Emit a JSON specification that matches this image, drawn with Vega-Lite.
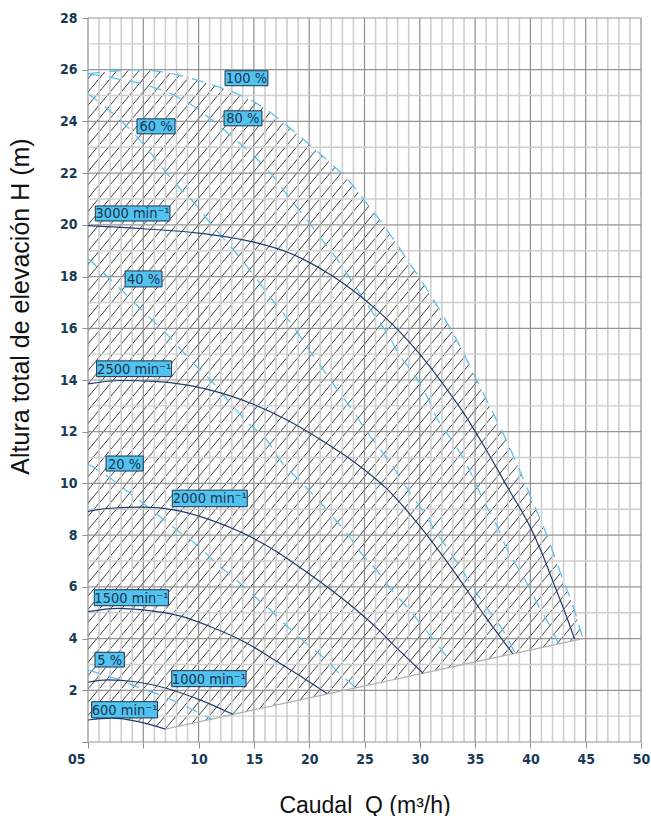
{
"$schema": "https://vega.github.io/schema/vega-lite/v6.json",
"width": 553, "height": 724,
"autosize": {"type": "none"},
"padding": {"left": 88, "top": 18, "right": 10, "bottom": 74},
"background": "white",
"config": {"view": {"stroke": null}, "axis": {"grid": false, "domain": false}},
"datasets": {
"hatch": [{"a":-51,"b":3.58},{"a":-50,"b":4.58},{"a":-49,"b":5.58},{"a":-48,"b":6.58},{"a":-47,"b":7.58},{"a":-46,"b":8.58},{"a":-45,"b":9.58},{"a":-44,"b":10.58},{"a":-43,"b":11.58},{"a":-42,"b":12.58},{"a":-41,"b":13.58},{"a":-40,"b":14.58},{"a":-39,"b":15.58},{"a":-38,"b":16.58},{"a":-37,"b":17.58},{"a":-36,"b":18.58},{"a":-35,"b":19.58},{"a":-34,"b":20.58},{"a":-33,"b":21.58},{"a":-32,"b":22.58},{"a":-31,"b":23.58},{"a":-30,"b":24.58},{"a":-29,"b":25.58},{"a":-28,"b":26.58},{"a":-27,"b":27.58},{"a":-26,"b":28.58},{"a":-25,"b":29.58},{"a":-24,"b":30.58},{"a":-23,"b":31.58},{"a":-22,"b":32.58},{"a":-21,"b":33.58},{"a":-20,"b":34.58},{"a":-19,"b":35.58},{"a":-18,"b":36.58},{"a":-17,"b":37.58},{"a":-16,"b":38.58},{"a":-15,"b":39.58},{"a":-14,"b":40.58},{"a":-13,"b":41.58},{"a":-12,"b":42.58},{"a":-11,"b":43.58},{"a":-10,"b":44.58},{"a":-9,"b":45.58},{"a":-8,"b":46.58},{"a":-7,"b":47.58},{"a":-6,"b":48.58},{"a":-5,"b":49.58},{"a":-4,"b":50.58},{"a":-3,"b":51.58},{"a":-2,"b":52.58},{"a":-1,"b":53.58},{"a":0,"b":54.58},{"a":1,"b":55.58},{"a":2,"b":56.58},{"a":3,"b":57.58},{"a":4,"b":58.58},{"a":5,"b":59.58},{"a":6,"b":60.58},{"a":7,"b":61.58},{"a":8,"b":62.58},{"a":9,"b":63.58},{"a":10,"b":64.58},{"a":11,"b":65.58},{"a":12,"b":66.58},{"a":13,"b":67.58},{"a":14,"b":68.58},{"a":15,"b":69.58},{"a":16,"b":70.58},{"a":17,"b":71.58},{"a":18,"b":72.58},{"a":19,"b":73.58},{"a":20,"b":74.58},{"a":21,"b":75.58},{"a":22,"b":76.58},{"a":23,"b":77.58},{"a":24,"b":78.58},{"a":25,"b":79.58},{"a":26,"b":80.58},{"a":27,"b":81.58},{"a":28,"b":82.58},{"a":29,"b":83.58},{"a":30,"b":84.58},{"a":31,"b":85.58},{"a":32,"b":86.58},{"a":33,"b":87.58},{"a":34,"b":88.58},{"a":35,"b":89.58},{"a":36,"b":90.58},{"a":37,"b":91.58}],
"eff": [
{"curve":"100 %","q":0,"h":25.85},{"curve":"100 %","q":2.1,"h":25.94},{"curve":"100 %","q":4.5,"h":26.0},{"curve":"100 %","q":7.6,"h":25.85},{"curve":"100 %","q":9.7,"h":25.62},{"curve":"100 %","q":11.2,"h":25.42},{"curve":"100 %","q":13.0,"h":25.15},{"curve":"100 %","q":14.8,"h":24.8},{"curve":"100 %","q":16.0,"h":24.5},{"curve":"100 %","q":17.8,"h":23.9},{"curve":"100 %","q":19.6,"h":23.26},{"curve":"100 %","q":22.0,"h":22.36},{"curve":"100 %","q":23.8,"h":21.6},{"curve":"100 %","q":25.0,"h":20.94},{"curve":"100 %","q":26.4,"h":20.17},{"curve":"100 %","q":27.6,"h":19.45},{"curve":"100 %","q":29.1,"h":18.5},{"curve":"100 %","q":30.2,"h":17.8},{"curve":"100 %","q":31.8,"h":16.7},{"curve":"100 %","q":33.6,"h":15.33},{"curve":"100 %","q":35.1,"h":14.04},{"curve":"100 %","q":36.6,"h":12.75},{"curve":"100 %","q":37.9,"h":11.6},{"curve":"100 %","q":39.1,"h":10.43},{"curve":"100 %","q":40.3,"h":9.2},{"curve":"100 %","q":41.5,"h":7.98},{"curve":"100 %","q":42.7,"h":6.56},{"curve":"100 %","q":43.9,"h":5.2},{"curve":"100 %","q":44.75,"h":4.0},
{"curve":"80 %","q":0,"h":25.85},{"curve":"80 %","q":2.0,"h":25.7},{"curve":"80 %","q":5.5,"h":25.38},{"curve":"80 %","q":8.3,"h":24.9},{"curve":"80 %","q":9.7,"h":24.55},{"curve":"80 %","q":11.8,"h":23.84},{"curve":"80 %","q":13.6,"h":23.2},{"curve":"80 %","q":15.4,"h":22.5},{"curve":"80 %","q":16.6,"h":21.95},{"curve":"80 %","q":18.4,"h":20.94},{"curve":"80 %","q":19.6,"h":20.3},{"curve":"80 %","q":21.1,"h":19.46},{"curve":"80 %","q":22.3,"h":18.8},{"curve":"80 %","q":23.5,"h":18.05},{"curve":"80 %","q":24.6,"h":17.33},{"curve":"80 %","q":25.5,"h":16.75},{"curve":"80 %","q":27.15,"h":15.74},{"curve":"80 %","q":28.2,"h":14.94},{"curve":"80 %","q":29.5,"h":14.2},{"curve":"80 %","q":30.6,"h":13.4},{"curve":"80 %","q":31.5,"h":12.56},{"curve":"80 %","q":32.7,"h":11.79},{"curve":"80 %","q":33.9,"h":11.0},{"curve":"80 %","q":34.8,"h":10.24},{"curve":"80 %","q":35.8,"h":9.3},{"curve":"80 %","q":36.9,"h":8.43},{"curve":"80 %","q":37.8,"h":7.53},{"curve":"80 %","q":38.7,"h":6.85},{"curve":"80 %","q":39.9,"h":5.98},{"curve":"80 %","q":40.8,"h":5.21},{"curve":"80 %","q":41.8,"h":4.47},{"curve":"80 %","q":42.55,"h":3.8},
{"curve":"60 %","q":0,"h":25.07},{"curve":"60 %","q":1.5,"h":24.58},{"curve":"60 %","q":4.85,"h":23.2},{"curve":"60 %","q":6.2,"h":22.49},{"curve":"60 %","q":7.8,"h":21.65},{"curve":"60 %","q":9.7,"h":20.8},{"curve":"60 %","q":11.0,"h":20.1},{"curve":"60 %","q":12.4,"h":19.4},{"curve":"60 %","q":13.7,"h":18.75},{"curve":"60 %","q":14.9,"h":18.1},{"curve":"60 %","q":16.4,"h":17.24},{"curve":"60 %","q":17.7,"h":16.56},{"curve":"60 %","q":19.1,"h":15.74},{"curve":"60 %","q":20.3,"h":14.97},{"curve":"60 %","q":21.5,"h":14.27},{"curve":"60 %","q":22.7,"h":13.53},{"curve":"60 %","q":24.0,"h":12.78},{"curve":"60 %","q":25.2,"h":12.0},{"curve":"60 %","q":26.5,"h":11.27},{"curve":"60 %","q":27.8,"h":10.5},{"curve":"60 %","q":29.05,"h":9.68},{"curve":"60 %","q":30.3,"h":8.92},{"curve":"60 %","q":31.5,"h":8.11},{"curve":"60 %","q":32.7,"h":7.36},{"curve":"60 %","q":33.9,"h":6.59},{"curve":"60 %","q":35.1,"h":5.79},{"curve":"60 %","q":36.3,"h":5.04},{"curve":"60 %","q":37.55,"h":4.3},{"curve":"60 %","q":38.6,"h":3.45},
{"curve":"40 %","q":0,"h":18.7},{"curve":"40 %","q":2.3,"h":17.78},{"curve":"40 %","q":3.6,"h":17.24},{"curve":"40 %","q":5.2,"h":16.56},{"curve":"40 %","q":6.8,"h":15.91},{"curve":"40 %","q":9.8,"h":14.53},{"curve":"40 %","q":11.4,"h":13.85},{"curve":"40 %","q":13.0,"h":13.04},{"curve":"40 %","q":14.35,"h":12.39},{"curve":"40 %","q":16.2,"h":11.66},{"curve":"40 %","q":17.5,"h":10.82},{"curve":"40 %","q":19.0,"h":10.17},{"curve":"40 %","q":20.5,"h":9.5},{"curve":"40 %","q":22.3,"h":8.63},{"curve":"40 %","q":23.4,"h":8.08},{"curve":"40 %","q":24.7,"h":7.3},{"curve":"40 %","q":26.2,"h":6.59},{"curve":"40 %","q":27.5,"h":5.85},{"curve":"40 %","q":29.0,"h":5.15},{"curve":"40 %","q":30.4,"h":4.4},{"curve":"40 %","q":31.8,"h":3.66},{"curve":"40 %","q":33.0,"h":2.95},
{"curve":"20 %","q":0,"h":10.75},{"curve":"20 %","q":1.9,"h":10.24},{"curve":"20 %","q":3.2,"h":9.81},{"curve":"20 %","q":5.0,"h":9.22},{"curve":"20 %","q":6.7,"h":8.65},{"curve":"20 %","q":8.3,"h":8.11},{"curve":"20 %","q":10.1,"h":7.53},{"curve":"20 %","q":11.6,"h":6.91},{"curve":"20 %","q":13.4,"h":6.27},{"curve":"20 %","q":14.9,"h":5.69},{"curve":"20 %","q":16.5,"h":5.1},{"curve":"20 %","q":18.1,"h":4.44},{"curve":"20 %","q":19.8,"h":3.79},{"curve":"20 %","q":21.6,"h":3.15},{"curve":"20 %","q":23.1,"h":2.5},{"curve":"20 %","q":24.3,"h":2.1},
{"curve":"5 %","q":0,"h":2.78},{"curve":"5 %","q":2.6,"h":2.44},{"curve":"5 %","q":4.6,"h":2.11},{"curve":"5 %","q":7.0,"h":1.73},{"curve":"5 %","q":9.2,"h":1.3},{"curve":"5 %","q":11.2,"h":0.88}
],
"speed": [
{"n":"3000","q":0,"h":19.97},{"n":"3000","q":5,"h":19.85},{"n":"3000","q":10,"h":19.68},{"n":"3000","q":15,"h":19.33},{"n":"3000","q":18,"h":18.95},{"n":"3000","q":20,"h":18.55},{"n":"3000","q":22,"h":18.05},{"n":"3000","q":24,"h":17.45},{"n":"3000","q":26,"h":16.75},{"n":"3000","q":28,"h":15.95},{"n":"3000","q":30,"h":15.0},{"n":"3000","q":32,"h":13.9},{"n":"3000","q":34,"h":12.7},{"n":"3000","q":36,"h":11.3},{"n":"3000","q":38,"h":9.8},{"n":"3000","q":40,"h":8.3},{"n":"3000","q":41,"h":7.35},{"n":"3000","q":42,"h":6.25},{"n":"3000","q":43,"h":5.15},{"n":"3000","q":44,"h":3.98},
{"n":"2500","q":0,"h":13.85},{"n":"2500","q":3,"h":13.98},{"n":"2500","q":6,"h":13.95},{"n":"2500","q":9,"h":13.8},{"n":"2500","q":12,"h":13.5},{"n":"2500","q":15,"h":13.05},{"n":"2500","q":18,"h":12.45},{"n":"2500","q":21,"h":11.7},{"n":"2500","q":24,"h":10.85},{"n":"2500","q":27,"h":9.8},{"n":"2500","q":30,"h":8.35},{"n":"2500","q":33,"h":6.65},{"n":"2500","q":36,"h":4.8},{"n":"2500","q":38.4,"h":3.42},
{"n":"2000","q":0,"h":8.92},{"n":"2000","q":2,"h":9.04},{"n":"2000","q":5,"h":9.08},{"n":"2000","q":8,"h":8.96},{"n":"2000","q":11,"h":8.6},{"n":"2000","q":14,"h":8.08},{"n":"2000","q":17,"h":7.38},{"n":"2000","q":20,"h":6.5},{"n":"2000","q":22,"h":5.88},{"n":"2000","q":24,"h":5.2},{"n":"2000","q":26,"h":4.45},{"n":"2000","q":28,"h":3.6},{"n":"2000","q":30.3,"h":2.66},
{"n":"1500","q":0,"h":5.04},{"n":"1500","q":2.7,"h":5.17},{"n":"1500","q":5.15,"h":5.1},{"n":"1500","q":8.2,"h":4.89},{"n":"1500","q":11.2,"h":4.44},{"n":"1500","q":14.2,"h":3.86},{"n":"1500","q":17.2,"h":3.08},{"n":"1500","q":19.6,"h":2.44},{"n":"1500","q":21.6,"h":1.88},
{"n":"1000","q":0,"h":2.31},{"n":"1000","q":1.8,"h":2.4},{"n":"1000","q":4.25,"h":2.33},{"n":"1000","q":7.3,"h":2.05},{"n":"1000","q":10.3,"h":1.6},{"n":"1000","q":13.1,"h":1.07},
{"n":"600","q":0,"h":0.85},{"n":"600","q":2.1,"h":0.92},{"n":"600","q":4.55,"h":0.79},{"n":"600","q":7.0,"h":0.5}
],
"floor": [{"q":0,"h":0.85},{"q":2.1,"h":0.92},{"q":4.55,"h":0.79},{"q":7.0,"h":0.5},{"q":44.75,"h":4.0},{"q":50,"h":4.0}],
"base": [{"q":7.0,"h":0.5},{"q":44.75,"h":4.0}],
"rightmask": [{"q0":44.75,"q1":50}],
"vgrid": [{"q":0},{"q":1},{"q":2},{"q":3},{"q":4},{"q":5},{"q":6},{"q":7},{"q":8},{"q":9},{"q":10},{"q":11},{"q":12},{"q":13},{"q":14},{"q":15},{"q":16},{"q":17},{"q":18},{"q":19},{"q":20},{"q":21},{"q":22},{"q":23},{"q":24},{"q":25},{"q":26},{"q":27},{"q":28},{"q":29},{"q":30},{"q":31},{"q":32},{"q":33},{"q":34},{"q":35},{"q":36},{"q":37},{"q":38},{"q":39},{"q":40},{"q":41},{"q":42},{"q":43},{"q":44},{"q":45},{"q":46},{"q":47},{"q":48},{"q":49},{"q":50}],
"hgrid": [{"h":0},{"h":1},{"h":2},{"h":3},{"h":4},{"h":5},{"h":6},{"h":7},{"h":8},{"h":9},{"h":10},{"h":11},{"h":12},{"h":13},{"h":14},{"h":15},{"h":16},{"h":17},{"h":18},{"h":19},{"h":20},{"h":21},{"h":22},{"h":23},{"h":24},{"h":25},{"h":26},{"h":27},{"h":28}],
"labels": [
{"t":"100 %","q0":12.39,"q1":16.27,"h0":25.38,"h1":25.96,"qc":14.33,"hc":25.67},
{"t":"80 %","q0":12.3,"q1":15.73,"h0":23.83,"h1":24.41,"qc":14.0,"hc":24.12},
{"t":"60 %","q0":4.43,"q1":7.87,"h0":23.52,"h1":24.1,"qc":6.15,"hc":23.81},
{"t":"3000 min⁻¹","q0":0.66,"q1":7.41,"h0":20.15,"h1":20.73,"qc":4.03,"hc":20.44},
{"t":"40 %","q0":3.35,"q1":6.69,"h0":17.6,"h1":18.22,"qc":5.02,"hc":17.91},
{"t":"2500 min⁻¹","q0":0.78,"q1":7.56,"h0":14.13,"h1":14.74,"qc":4.17,"hc":14.43},
{"t":"20 %","q0":1.63,"q1":4.99,"h0":10.48,"h1":11.06,"qc":3.31,"hc":10.77},
{"t":"2000 min⁻¹","q0":7.62,"q1":14.4,"h0":9.1,"h1":9.74,"qc":11.01,"hc":9.42},
{"t":"1500 min⁻¹","q0":0.57,"q1":7.27,"h0":5.27,"h1":5.89,"qc":3.92,"hc":5.58},
{"t":"5 %","q0":0.63,"q1":3.29,"h0":2.9,"h1":3.47,"qc":1.96,"hc":3.19},
{"t":"1000 min⁻¹","q0":7.57,"q1":14.29,"h0":2.14,"h1":2.76,"qc":10.93,"hc":2.45},
{"t":"600 min⁻¹","q0":0.33,"q1":6.29,"h0":0.93,"h1":1.56,"qc":3.31,"hc":1.25}
]
},
"layer": [
{"data": {"name": "hatch"},
 "mark": {"type": "rule", "clip": true, "color": "#2e2e2e", "strokeWidth": 0.9},
 "encoding": {
  "x": {"field": "a", "type": "quantitative", "scale": {"domain": [0, 50], "nice": false, "zero": false}, "title": "Caudal\u00a0 Q (m³/h)"},
  "x2": {"field": "b"},
  "y": {"datum": 0, "type": "quantitative", "scale": {"domain": [0, 28], "nice": false}, "title": "Altura total de elevación H (m)"},
  "y2": {"datum": 28}}},
{"data": {"name": "eff"},
 "transform": [{"filter": "datum.curve == '100 %'"}],
 "mark": {"type": "area", "color": "white", "interpolate": "monotone", "opacity": 1},
 "encoding": {
  "x": {"field": "q", "type": "quantitative", "scale": {"domain": [0, 50], "nice": false, "zero": false}, "title": "Caudal\u00a0 Q (m³/h)"},
  "y": {"field": "h", "type": "quantitative", "scale": {"domain": [0, 28], "nice": false}, "title": "Altura total de elevación H (m)"},
  "y2": {"datum": 28}}},
{"data": {"name": "floor"},
 "mark": {"type": "area", "color": "white", "interpolate": "linear", "opacity": 1},
 "encoding": {
  "x": {"field": "q", "type": "quantitative", "scale": {"domain": [0, 50], "nice": false, "zero": false}, "title": "Caudal\u00a0 Q (m³/h)"},
  "y": {"field": "h", "type": "quantitative", "scale": {"domain": [0, 28], "nice": false}, "title": "Altura total de elevación H (m)"},
  "y2": {"datum": 0}}},
{"data": {"name": "rightmask"},
 "mark": {"type": "rect", "color": "white", "opacity": 1},
 "encoding": {
  "x": {"field": "q0", "type": "quantitative", "scale": {"domain": [0, 50], "nice": false, "zero": false}, "title": "Caudal\u00a0 Q (m³/h)"},
  "x2": {"field": "q1"},
  "y": {"datum": 0, "type": "quantitative", "scale": {"domain": [0, 28], "nice": false}, "title": "Altura total de elevación H (m)"},
  "y2": {"datum": 28}}},
{"data": {"name": "vgrid"},
 "mark": {"type": "rule"},
 "encoding": {
  "x": {"field": "q", "type": "quantitative", "scale": {"domain": [0, 50], "nice": false, "zero": false}, "title": "Caudal\u00a0 Q (m³/h)",
   "axis": {"values": [0,5,10,15,20,25,30,35,40,45,50], "grid": false, "domain": false, "ticks": true, "tickSize": 6, "tickColor": "#8f8f8f", "tickWidth": 1,
    "labelFont": "DejaVu Sans Condensed", "labelFontWeight": "bold", "labelFontSize": 14, "labelColor": "#173a56", "labelPadding": 4,
    "labelExpr": "datum.value == 0 ? '05' : (datum.value == 5 ? '' : datum.label)",
    "labelAlign": {"condition": {"test": "datum.value == 0", "value": "right"}, "value": "center"},
    "labelOffset": {"condition": {"test": "datum.value == 0", "value": -3}, "value": 0},
    "labelFlush": false, "labelOverlap": false,
    "titleFont": "Liberation Sans", "titleFontSize": 23, "titleFontWeight": "normal", "titleColor": "#111111", "titleBaseline": "alphabetic", "titleY": 70}},
  "color": {"condition": {"test": "datum.q % 5 == 0", "value": "#8f8f8f"}, "value": "#cfcfcf"},
  "strokeWidth": {"condition": {"test": "datum.q % 5 == 0", "value": 1.2}, "value": 1.6}}},
{"data": {"name": "hgrid"},
 "mark": {"type": "rule"},
 "encoding": {
  "y": {"field": "h", "type": "quantitative", "scale": {"domain": [0, 28], "nice": false}, "title": "Altura total de elevación H (m)",
   "axis": {"values": [0,2,4,6,8,10,12,14,16,18,20,22,24,26,28], "grid": false, "domain": false, "ticks": true, "tickSize": 6, "tickColor": "#8f8f8f", "tickWidth": 1,
    "labelFont": "DejaVu Sans Condensed", "labelFontWeight": "bold", "labelFontSize": 14, "labelColor": "#173a56", "labelPadding": 5,
    "labelExpr": "datum.value == 0 ? '' : datum.label", "labelFlush": false, "labelOverlap": false,
    "titleFont": "Liberation Sans", "titleFontSize": 25, "titleFontWeight": "normal", "titleColor": "#111111",
    "titleBaseline": "alphabetic", "titleAlign": "center", "titleAngle": 270, "titleX": -60, "titleY": 288}},
  "color": {"condition": {"test": "datum.h % 2 == 0", "value": "#959595"}, "value": "#cfcfcf"},
  "strokeWidth": {"condition": {"test": "datum.h % 2 == 0", "value": 1.2}, "value": 1.4}}},
{"data": {"name": "base"},
 "mark": {"type": "line", "color": "#b0b0b0", "strokeWidth": 1.2},
 "encoding": {
  "x": {"field": "q", "type": "quantitative", "scale": {"domain": [0, 50], "nice": false, "zero": false}, "title": "Caudal\u00a0 Q (m³/h)"},
  "y": {"field": "h", "type": "quantitative", "scale": {"domain": [0, 28], "nice": false}, "title": "Altura total de elevación H (m)"}}},
{"data": {"name": "eff"},
 "mark": {"type": "line", "color": "#5cc3ec", "strokeWidth": 1.3, "strokeDash": [12, 9], "interpolate": "monotone"},
 "encoding": {
  "x": {"field": "q", "type": "quantitative", "scale": {"domain": [0, 50], "nice": false, "zero": false}, "title": "Caudal\u00a0 Q (m³/h)"},
  "y": {"field": "h", "type": "quantitative", "scale": {"domain": [0, 28], "nice": false}, "title": "Altura total de elevación H (m)"},
  "detail": {"field": "curve", "type": "nominal"}}},
{"data": {"name": "speed"},
 "mark": {"type": "line", "color": "#1f3d6d", "strokeWidth": 1.2, "interpolate": "monotone"},
 "encoding": {
  "x": {"field": "q", "type": "quantitative", "scale": {"domain": [0, 50], "nice": false, "zero": false}, "title": "Caudal\u00a0 Q (m³/h)"},
  "y": {"field": "h", "type": "quantitative", "scale": {"domain": [0, 28], "nice": false}, "title": "Altura total de elevación H (m)"},
  "detail": {"field": "n", "type": "nominal"}}},
{"data": {"name": "labels"},
 "mark": {"type": "rect", "fill": "#52c2ef", "stroke": "#1b3550", "strokeWidth": 1, "opacity": 1},
 "encoding": {
  "x": {"field": "q0", "type": "quantitative", "scale": {"domain": [0, 50], "nice": false, "zero": false}, "title": "Caudal\u00a0 Q (m³/h)"},
  "x2": {"field": "q1"},
  "y": {"field": "h0", "type": "quantitative", "scale": {"domain": [0, 28], "nice": false}, "title": "Altura total de elevación H (m)"},
  "y2": {"field": "h1"}}},
{"data": {"name": "labels"},
 "mark": {"type": "text", "align": "center", "baseline": "middle", "font": "DejaVu Sans Condensed", "fontSize": 14.5, "color": "#1b3550", "dy": 1},
 "encoding": {
  "x": {"field": "qc", "type": "quantitative", "scale": {"domain": [0, 50], "nice": false, "zero": false}, "title": "Caudal\u00a0 Q (m³/h)"},
  "y": {"field": "hc", "type": "quantitative", "scale": {"domain": [0, 28], "nice": false}, "title": "Altura total de elevación H (m)"},
  "text": {"field": "t"}}}
]
}
